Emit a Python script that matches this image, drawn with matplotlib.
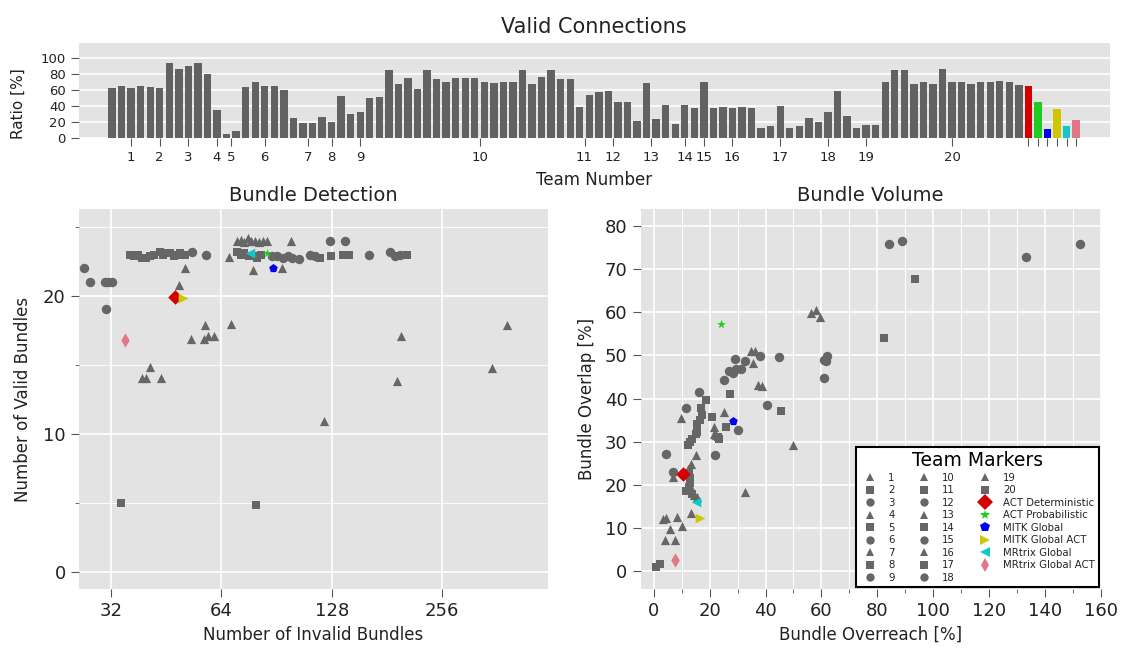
import numpy as np
import matplotlib
matplotlib.use("Agg")
import matplotlib.pyplot as plt
from matplotlib.lines import Line2D
from matplotlib.ticker import NullLocator

# ---- data ----
team_sizes = [5, 1, 5, 1, 2, 5, 4, 1, 5, 20, 2, 4, 4, 3, 1, 5, 5, 5, 3, 15]
team_ratio = [62, 64, 62, 64, 63, 61.5,
              93, 85.5, 90, 93, 79,
              34.5,
              4, 8,
              63, 70, 65, 65, 60,
              25, 18, 18, 26,
              19,
              52, 29.5, 31.5, 49, 51,
              84, 67, 75, 61, 85, 73, 69, 75, 75, 75, 69, 68, 69, 69, 84, 67, 76, 85, 73, 73,
              38, 53.5,
              56.5, 58.5, 45, 45,
              20.5, 68, 23, 41,
              17, 41, 37.5,
              70,
              36.5, 38.5, 36.5, 38, 37,
              12, 15, 40, 12, 14,
              25, 20, 31.5, 58.5, 26.5,
              12, 16, 16,
              69, 85, 84, 67, 69, 67, 86, 70, 70, 67, 69, 69, 71, 70, 66]

method_names = ["ACT Deterministic", "ACT Probabilistic", "MITK Global",
                "MITK Global ACT", "MRtrix Global", "MRtrix Global ACT"]
method_ratio = [65, 44.5, 11, 36, 15, 22]
method_colors = ["#d40000", "#1fcc1f", "#0000ee", "#cfc800", "#10c8c8", "#e07888"]
method_markers = ["D", "*", "p", ">", "<", "d"]
team_markers = ["^", "s", "o"]

# Bundle Detection (invalid bundles, valid bundles)
det_tri_x = [39.0, 39.9, 41.0, 43.9, 49.0, 50.9, 53.0, 57.5, 59.0, 61.0, 57.7, 68.0, 67.2,
             70.5, 72.5, 74.0, 75.5, 77.0, 79.0, 81.0, 83.0, 85.0, 78.2, 93.4, 98.8, 121.6,
             192.9, 197.8, 349.7, 384.0]
det_tri_y = [14.1, 14.1, 14.9, 14.05, 20.85, 22.07, 16.9, 16.9, 17.1, 17.1, 17.95, 18.0, 22.85,
             24.0, 24.1, 23.9, 24.2, 24.0, 24.0, 23.9, 24.0, 24.0, 21.9, 22.05, 24.0, 10.95,
             13.9, 17.1, 14.8, 17.95]
det_sq_x = [34.1, 79.6, 36.0, 37.0, 38.0, 39.0, 40.0, 41.0, 42.0, 43.5, 44.5, 45.5, 46.5, 47.5,
            48.5, 49.5, 51.0, 70.6, 72.5, 74.0, 76.0, 78.0, 80.0, 82.0, 118.6, 127.7, 137.2,
            143.0, 204.6]
det_sq_y = [5.0, 4.9, 23.0, 22.9, 23.0, 22.8, 22.8, 22.9, 23.0, 23.2, 23.0, 23.1, 23.1, 22.9,
            23.0, 23.1, 23.0, 23.2, 23.0, 23.1, 22.9, 22.9, 22.8, 23.0, 22.8, 22.9, 23.0,
            23.0, 23.0]
det_circ_x = [27.0, 28.1, 30.8, 31.5, 32.2, 31.0, 53.1, 58.0, 88.0, 91.0, 94.0, 97.0, 100.0,
              104.0, 111.4, 115.0, 126.9, 138.9, 161.8, 184.0, 190.0, 196.0]
det_circ_y = [22.05, 21.0, 21.05, 21.0, 21.0, 19.1, 23.2, 23.0, 22.9, 22.9, 22.8, 22.9, 22.8,
              22.7, 23.0, 22.9, 24.0, 24.0, 23.0, 23.2, 22.9, 23.0]
det_method_x = [47.9, 85.0, 88.8, 50.4, 76.5, 34.9]
det_method_y = [19.95, 23.1, 22.05, 19.9, 23.1, 16.8]

# Bundle Volume (overreach, overlap)
vol_tri_x = [3.9, 7.7, 5.9, 10.2, 3.3, 4.3, 8.4, 13.2, 14.3, 13.5, 15.5, 6.9, 12.4, 13.4, 15.0,
             9.6, 21.4, 21.7, 22.3, 25.1, 32.7, 50.0, 37.3, 38.7, 34.8, 36.3, 35.4, 56.3, 58.0,
             59.5]
vol_tri_y = [7.2, 7.2, 9.7, 10.4, 12.0, 12.3, 12.6, 13.5, 17.6, 18.8, 17.2, 21.8, 23.6, 24.9,
             26.9, 35.5, 33.4, 31.9, 31.5, 36.9, 18.3, 29.3, 43.1, 42.8, 50.9, 50.9, 48.3, 59.7,
             60.4, 58.9]
vol_sq_x = [0.9, 2.3, 11.6, 12.5, 12.8, 13.0, 12.5, 13.8, 12.2, 13.0, 13.7, 15.2, 15.5, 15.6,
            16.5, 17.3, 16.8, 18.6, 21.0, 22.8, 23.4, 25.8, 27.3, 45.5, 82.3, 93.4]
vol_sq_y = [1.1, 1.8, 18.6, 19.5, 20.5, 21.5, 22.8, 18.0, 29.3, 30.0, 30.7, 31.9, 32.2, 34.2,
            35.0, 36.1, 37.7, 39.6, 35.7, 31.0, 30.6, 33.5, 41.0, 37.0, 54.0, 67.7]
vol_circ_x = [4.3, 6.9, 22.0, 11.6, 16.0, 30.0, 40.7, 25.1, 27.0, 28.3, 29.4, 31.2, 29.2, 32.7,
              38.0, 44.9, 60.8, 61.8, 62.1, 60.8, 84.1, 88.7, 133.1, 152.7]
vol_circ_y = [27.2, 23.1, 26.9, 37.8, 41.5, 32.8, 38.6, 44.3, 46.4, 45.9, 46.8, 46.8, 49.2,
              48.6, 49.9, 49.5, 49.0, 48.7, 49.9, 44.7, 75.8, 76.4, 72.8, 75.7]
vol_method_x = [10.5, 24.1, 28.3, 16.6, 15.0, 7.5]
vol_method_y = [22.6, 57.2, 34.7, 12.3, 16.0, 2.7]

# ---- style ----
BG = "#e3e3e3"
GRAY = "#666666"
BAR_GRAY = "#626262"
TXT = "#222222"
plt.rcParams["font.family"] = ["DejaVu Sans"]
plt.rcParams["axes.facecolor"] = BG
plt.rcParams["xtick.color"] = "#555555"
plt.rcParams["ytick.color"] = "#555555"
plt.rcParams["xtick.labelcolor"] = TXT
plt.rcParams["ytick.labelcolor"] = TXT

fig = plt.figure(figsize=(11.3, 6.48), dpi=100)


def clean(ax):
    for s in ax.spines.values():
        s.set_visible(False)
    ax.set_axisbelow(True)


# ---- top: valid connections ----
ax0 = fig.add_axes([0.0699, 0.7875, 0.912, 0.146])
clean(ax0)
n = len(team_ratio)
pos = np.arange(n + len(method_ratio))
ax0.bar(pos[:n], team_ratio, width=0.77, color=BAR_GRAY)
ax0.bar(pos[n:], method_ratio, width=0.77, color=method_colors)
sizes = np.array(team_sizes)
starts = np.concatenate([[0], np.cumsum(sizes)[:-1]])
centers = starts + (sizes - 1) / 2
ax0.set_xticks(list(centers) + list(pos[n:]),
               [str(i + 1) for i in range(len(sizes))] + [""] * len(method_ratio))
ax0.set_xlim(-3.46, 104.5)
ax0.set_ylim(0, 118)
ax0.set_yticks(range(0, 101, 20))
ax0.grid(axis="y", color="white", lw=1.2)
ax0.grid(axis="x", visible=False)
ax0.tick_params(axis="both", labelsize=9.5, length=6, width=0.8)
ax0.set_ylabel("Ratio [%]", fontsize=11, color=TXT)
ax0.yaxis.set_label_coords(-0.052, 0.36)
ax0.set_xlabel("Team Number", fontsize=12, color=TXT, labelpad=5)
ax0.set_title("Valid Connections", fontsize=15, color=TXT, pad=7)


def scatter_panel(ax, tx, ty, sx, sy, cx, cy, mx, my):
    ax.scatter(tx, ty, marker="^", s=44, color=GRAY, lw=0, zorder=3)
    ax.scatter(sx, sy, marker="s", s=40, color=GRAY, lw=0, zorder=3)
    ax.scatter(cx, cy, marker="o", s=46, color=GRAY, lw=0, zorder=3)
    msizes = [55, 45, 42, 48, 48, 52]
    for x, y, c, m, s in zip(mx, my, method_colors, method_markers, msizes):
        ax.scatter([x], [y], marker=m, s=s, color=c, lw=0, zorder=4)


# ---- bottom left: bundle detection ----
ax1 = fig.add_axes([0.0699, 0.091, 0.415, 0.586])
clean(ax1)
scatter_panel(ax1, det_tri_x, det_tri_y, det_sq_x, det_sq_y, det_circ_x, det_circ_y,
              det_method_x, det_method_y)
ax1.set_xscale("log", base=2)
ax1.set_xlim(26.2, 497)
ax1.set_ylim(-1.2, 26.3)
ax1.set_xticks([32, 64, 128, 256], ["32", "64", "128", "256"])
ax1.xaxis.set_minor_locator(NullLocator())
ax1.set_yticks([0, 10, 20])
ax1.set_yticks([5, 15, 25], minor=True)
ax1.grid(which="major", color="white", lw=1.2)
ax1.grid(which="minor", axis="y", color="white", lw=0.6)
ax1.tick_params(which="major", labelsize=13, length=6, width=0.8)
ax1.tick_params(which="minor", length=3, width=0.6)
ax1.set_xlabel("Number of Invalid Bundles", fontsize=12, color=TXT, labelpad=4)
ax1.set_ylabel("Number of Valid Bundles", fontsize=12, color=TXT, labelpad=8)
ax1.set_title("Bundle Detection", fontsize=14, color=TXT, pad=6)

# ---- bottom right: bundle volume ----
ax2 = fig.add_axes([0.567, 0.091, 0.407, 0.586])
clean(ax2)
scatter_panel(ax2, vol_tri_x, vol_tri_y, vol_sq_x, vol_sq_y, vol_circ_x, vol_circ_y,
              vol_method_x, vol_method_y)
ax2.set_xlim(-4.7, 160)
ax2.set_ylim(-4.1, 83.8)
ax2.set_xticks(range(0, 161, 20))
ax2.set_xticks(range(10, 160, 20), minor=True)
ax2.set_yticks(range(0, 81, 10))
ax2.grid(which="major", color="white", lw=1.2)
ax2.grid(which="minor", axis="x", color="white", lw=0.8)
ax2.tick_params(which="major", labelsize=13, length=6, width=0.8)
ax2.tick_params(which="minor", length=3, width=0.6)
ax2.set_xlabel("Bundle Overreach [%]", fontsize=12, color=TXT, labelpad=4)
ax2.set_ylabel("Bundle Overlap [%]", fontsize=12, color=TXT, labelpad=6)
ax2.set_title("Bundle Volume", fontsize=14, color=TXT, pad=6)

handles = []
for i in range(len(team_sizes)):
    handles.append(Line2D([], [], ls="", marker=team_markers[i % 3], ms=6, color=GRAY,
                          mew=0, label=str(i + 1)))
for name, c, m in zip(method_names, method_colors, method_markers):
    ms = 8 if m == "D" else 7
    handles.append(Line2D([], [], ls="", marker=m, ms=ms, color=c, mew=0, label=name))
leg = ax2.legend(handles=handles, ncol=3, loc="lower right", fontsize=7.3,
                 title="Team Markers", title_fontsize=13.5, labelspacing=0.25,
                 columnspacing=1.9, handletextpad=0.8, borderaxespad=0.2,
                 fancybox=False, framealpha=1, edgecolor="black", facecolor="white")
leg.get_frame().set_linewidth(1.5)
for t in leg.get_texts():
    t.set_color(TXT)

fig.savefig("out.png", dpi=100)
